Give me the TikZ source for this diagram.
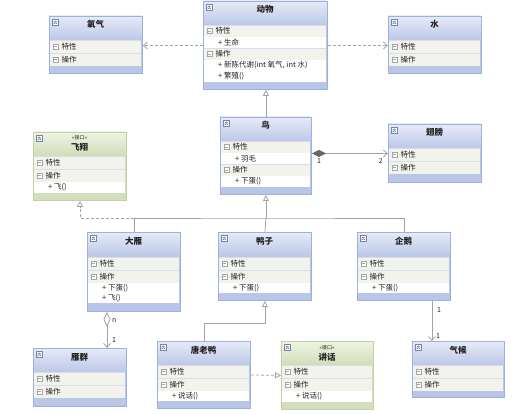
\documentclass[tikz,border=0pt]{standalone}
\usepackage{fontspec}
\setmainfont{Noto Sans CJK SC}
\usetikzlibrary{arrows.meta,calc}

\definecolor{boxblue}{HTML}{9DB1DE}
\definecolor{headtop}{HTML}{E6EBF7}
\definecolor{headbot}{HTML}{BCC8E8}
\definecolor{bandblue}{HTML}{BAC6E7}
\definecolor{secgray}{HTML}{F1F3EC}
\definecolor{sepgray}{HTML}{D8DDE6}
\definecolor{boxgreen}{HTML}{C8CEA6}
\definecolor{gheadtop}{HTML}{EFF4E4}
\definecolor{gheadbot}{HTML}{D0DDB7}
\definecolor{gband}{HTML}{D3DFBC}
\definecolor{linegray}{HTML}{A3A3A3}
\definecolor{inkdark}{HTML}{222222}

% frame of a class box: name, kind, x, y, w, h
\newcommand{\umlframe}[6]{%
  \fill[#2 band] (#3,#4) rectangle ++(#5,#6);
  \shade[#2 head] (#3,#4) rectangle ++(#5,24);
  \node[#2 box, minimum width=#5pt, minimum height=#6pt, anchor=north west] (#1) at (#3,#4) {};
  \draw[hicon] (#3+3,#4+3) rectangle ++(6.5,6.5);
  \draw[chev] (#3+4.5,#4+6.3) -- (#3+6.25,#4+4.9) -- (#3+8,#4+6.3)
              (#3+4.5,#4+8.1) -- (#3+6.25,#4+6.7) -- (#3+8,#4+8.1);
}
\newcommand{\umlclass}[6]{%
  \umlframe{#1}{cls}{#2}{#3}{#4}{#5}
  \node[title] (#1-name) at (#2+#4/2,#3+12) {#6};
}
\newcommand{\umliface}[6]{%
  \umlframe{#1}{ifc}{#2}{#3}{#4}{#5}
  \node[stereo] (#1-st) at (#2+#4/2,#3+8) {«接口»};
  \node[title] (#1-name) at (#2+#4/2,#3+19) {#6};
}
% section heading row: name, x, y, w, h, label
\newcommand{\secrow}[6]{%
  \fill[secgray] (#2+0.6,#3) rectangle (#2+#4-0.6,#3+#5);
  \draw[sepline] (#2+0.6,#3) -- (#2+#4-0.6,#3);
  \draw[ricon] (#2+4,#3+#5/2-2.5) rectangle ++(5,5);
  \draw[ricon] (#2+5.2,#3+#5/2) -- ++(2.6,0);
  \node[rowtext] (#1) at (#2+12.5,#3+#5/2) {#6};
}
% member row: name, x, y, w, h, text
\newcommand{\memrow}[6]{%
  \fill[white] (#2+0.6,#3) rectangle (#2+#4-0.6,#3+#5);
  \node[rowtext] (#1) at (#2+15,#3+#5/2) {+ #6};
}

\begin{document}
\begin{tikzpicture}[x=1pt, y=-1pt,
  cls box/.style={draw=boxblue, line width=0.9pt},
  cls head/.style={top color=headtop, bottom color=headbot},
  cls band/.style={fill=bandblue},
  ifc box/.style={draw=boxgreen, line width=0.9pt},
  ifc head/.style={top color=gheadtop, bottom color=gheadbot},
  ifc band/.style={fill=gband},
  title/.style={anchor=base, inner sep=0pt, font=\fontsize{8.5}{9}\selectfont\bfseries, text=inkdark},
  stereo/.style={anchor=base, inner sep=0pt, font=\fontsize{5}{6}\selectfont, text=inkdark},
  rowtext/.style={anchor=west, inner sep=0pt, font=\fontsize{7.5}{8}\selectfont, text=inkdark},
  hicon/.style={draw=boxblue!75!black, fill=white, line width=0.5pt},
  chev/.style={draw=boxblue!50!black, line width=0.45pt},
  ricon/.style={draw=gray!70, fill=white, line width=0.4pt},
  sepline/.style={draw=sepgray, line width=0.4pt},
  conn/.style={draw=linegray, line width=0.8pt},
  dep/.style={conn, dash pattern=on 3pt off 2pt, -{Straight Barb[length=4pt, width=7pt]}},
  gen/.style={conn, -{Triangle[open, length=6pt, width=6pt, fill=white]}},
  real/.style={conn, dash pattern=on 3pt off 2pt, -{Triangle[open, length=6pt, width=6pt, fill=white]}},
  comp/.style={conn, {Diamond[length=14pt, width=7pt, fill=gray!80!black, color=gray!80!black]}-{Straight Barb[length=4pt, width=7pt]}},
  agg/.style={conn, {Diamond[open, length=15pt, width=7pt, fill=white]}-{Straight Barb[length=4pt, width=7pt]}},
  assoc/.style={conn, -{Straight Barb[length=4pt, width=7pt]}},
  mult/.style={inner sep=0pt, font=\fontsize{7}{8}\selectfont, text=inkdark}
]
\useasboundingbox (0,0) rectangle (519,414);

% top row
\umlclass{oxygen}{49}{16}{93}{57}{氧气}
\secrow{oxygen-attr}{49}{40}{93}{13}{特性}
\secrow{oxygen-op}{49}{53}{93}{13}{操作}

\umlclass{animal}{203}{1}{124}{88}{动物}
\secrow{animal-attr}{203}{25}{124}{12}{特性}
\memrow{animal-life}{203}{37}{124}{11}{生命}
\secrow{animal-op}{203}{48}{124}{12}{操作}
\memrow{animal-meta}{203}{60}{124}{11}{新陈代谢(int 氧气, int 水)}
\memrow{animal-breed}{203}{71}{124}{11}{繁殖()}

\umlclass{water}{388}{16}{93}{57}{水}
\secrow{water-attr}{388}{40}{93}{13}{特性}
\secrow{water-op}{388}{53}{93}{13}{操作}

% middle row
\umliface{fly}{33}{132}{93}{68}{飞翔}
\secrow{fly-attr}{33}{156}{93}{13}{特性}
\secrow{fly-op}{33}{169}{93}{13}{操作}
\memrow{fly-fly}{33}{182}{93}{11}{飞()}

\umlclass{bird}{220}{117}{91}{77}{鸟}
\secrow{bird-attr}{220}{141}{91}{12}{特性}
\memrow{bird-feather}{220}{153}{91}{11}{羽毛}
\secrow{bird-op}{220}{164}{91}{12}{操作}
\memrow{bird-egg}{220}{176}{91}{11}{下蛋()}

\umlclass{wing}{388}{124}{93}{58}{翅膀}
\secrow{wing-attr}{388}{148}{93}{13}{特性}
\secrow{wing-op}{388}{161}{93}{13}{操作}

% subclasses
\umlclass{goose}{87}{232}{93}{79}{大雁}
\secrow{goose-attr}{87}{257}{93}{13}{特性}
\secrow{goose-op}{87}{270}{93}{13}{操作}
\memrow{goose-egg}{87}{283}{93}{10}{下蛋()}
\memrow{goose-fly}{87}{293}{93}{10}{飞()}

\umlclass{duck}{218}{232}{93}{68}{鸭子}
\secrow{duck-attr}{218}{257}{93}{13}{特性}
\secrow{duck-op}{218}{270}{93}{13}{操作}
\memrow{duck-egg}{218}{283}{93}{10}{下蛋()}

\umlclass{penguin}{357}{232}{93}{68}{企鹅}
\secrow{penguin-attr}{357}{257}{93}{13}{特性}
\secrow{penguin-op}{357}{270}{93}{13}{操作}
\memrow{penguin-egg}{357}{283}{93}{10}{下蛋()}

% bottom row
\umlclass{flock}{33}{348}{93}{58}{雁群}
\secrow{flock-attr}{33}{372}{93}{13}{特性}
\secrow{flock-op}{33}{385}{93}{13}{操作}

\umlclass{donald}{157}{341}{93}{67}{唐老鸭}
\secrow{donald-attr}{157}{365}{93}{13}{特性}
\secrow{donald-op}{157}{378}{93}{13}{操作}
\memrow{donald-talk}{157}{391}{93}{10}{说话()}

\umliface{speak}{281}{341}{92}{68}{讲话}
\secrow{speak-attr}{281}{365}{92}{13}{特性}
\secrow{speak-op}{281}{378}{92}{13}{操作}
\memrow{speak-talk}{281}{391}{92}{11}{说话()}

\umlclass{climate}{412}{341}{92}{56}{气候}
\secrow{climate-attr}{412}{365}{92}{13}{特性}
\secrow{climate-op}{412}{378}{92}{13}{操作}

% connectors
\draw[dep] (animal.west) -- (oxygen.east |- animal.west);
\draw[dep] (animal.east) -- (water.west |- animal.east);
\draw[gen] (bird.north) -- (bird.north |- animal.south);
\draw[comp] (wing.west -| bird.east) -- (wing.west);
\node[mult, anchor=north west] (wing-m1) at ($(wing.west -| bird.east)+(5,5)$) {1};
\node[mult, anchor=north east] (wing-m2) at ($(wing.west)+(-5,5)$) {2};

\coordinate (bus) at (bird.south |- 0,218);
\draw[gen] (bus) -- (bird.south);
\draw[conn] (goose.north) |- (bus) -| (penguin.north);
\draw[conn] (duck.north) -- (bus);
\draw[real] (goose.north |- bus) -| (fly.south);

\coordinate (goose-agg) at ($(goose.south west)+(20,0)$);
\draw[agg] (goose-agg) -- (goose-agg |- flock.north);
\node[mult, anchor=west] (flock-mn) at ($(goose-agg)+(5,9)$) {n};
\node[mult, anchor=west] (flock-m1) at ($(goose-agg |- flock.north)+(5,-8)$) {1};

\draw[gen] (donald.north) -- ++(0,-18) -| (duck.south);
\draw[real] (donald.east) -- (speak.west);

\coordinate (penguin-out) at ($(penguin.south east)+(-19,0)$);
\draw[assoc] (penguin-out) -- (penguin-out |- climate.north);
\node[mult, anchor=west] (climate-m1) at ($(penguin-out)+(5,9)$) {1};
\node[mult, anchor=west] (climate-m2) at ($(penguin-out |- climate.north)+(4,-5)$) {1};
\end{tikzpicture}
\end{document}
